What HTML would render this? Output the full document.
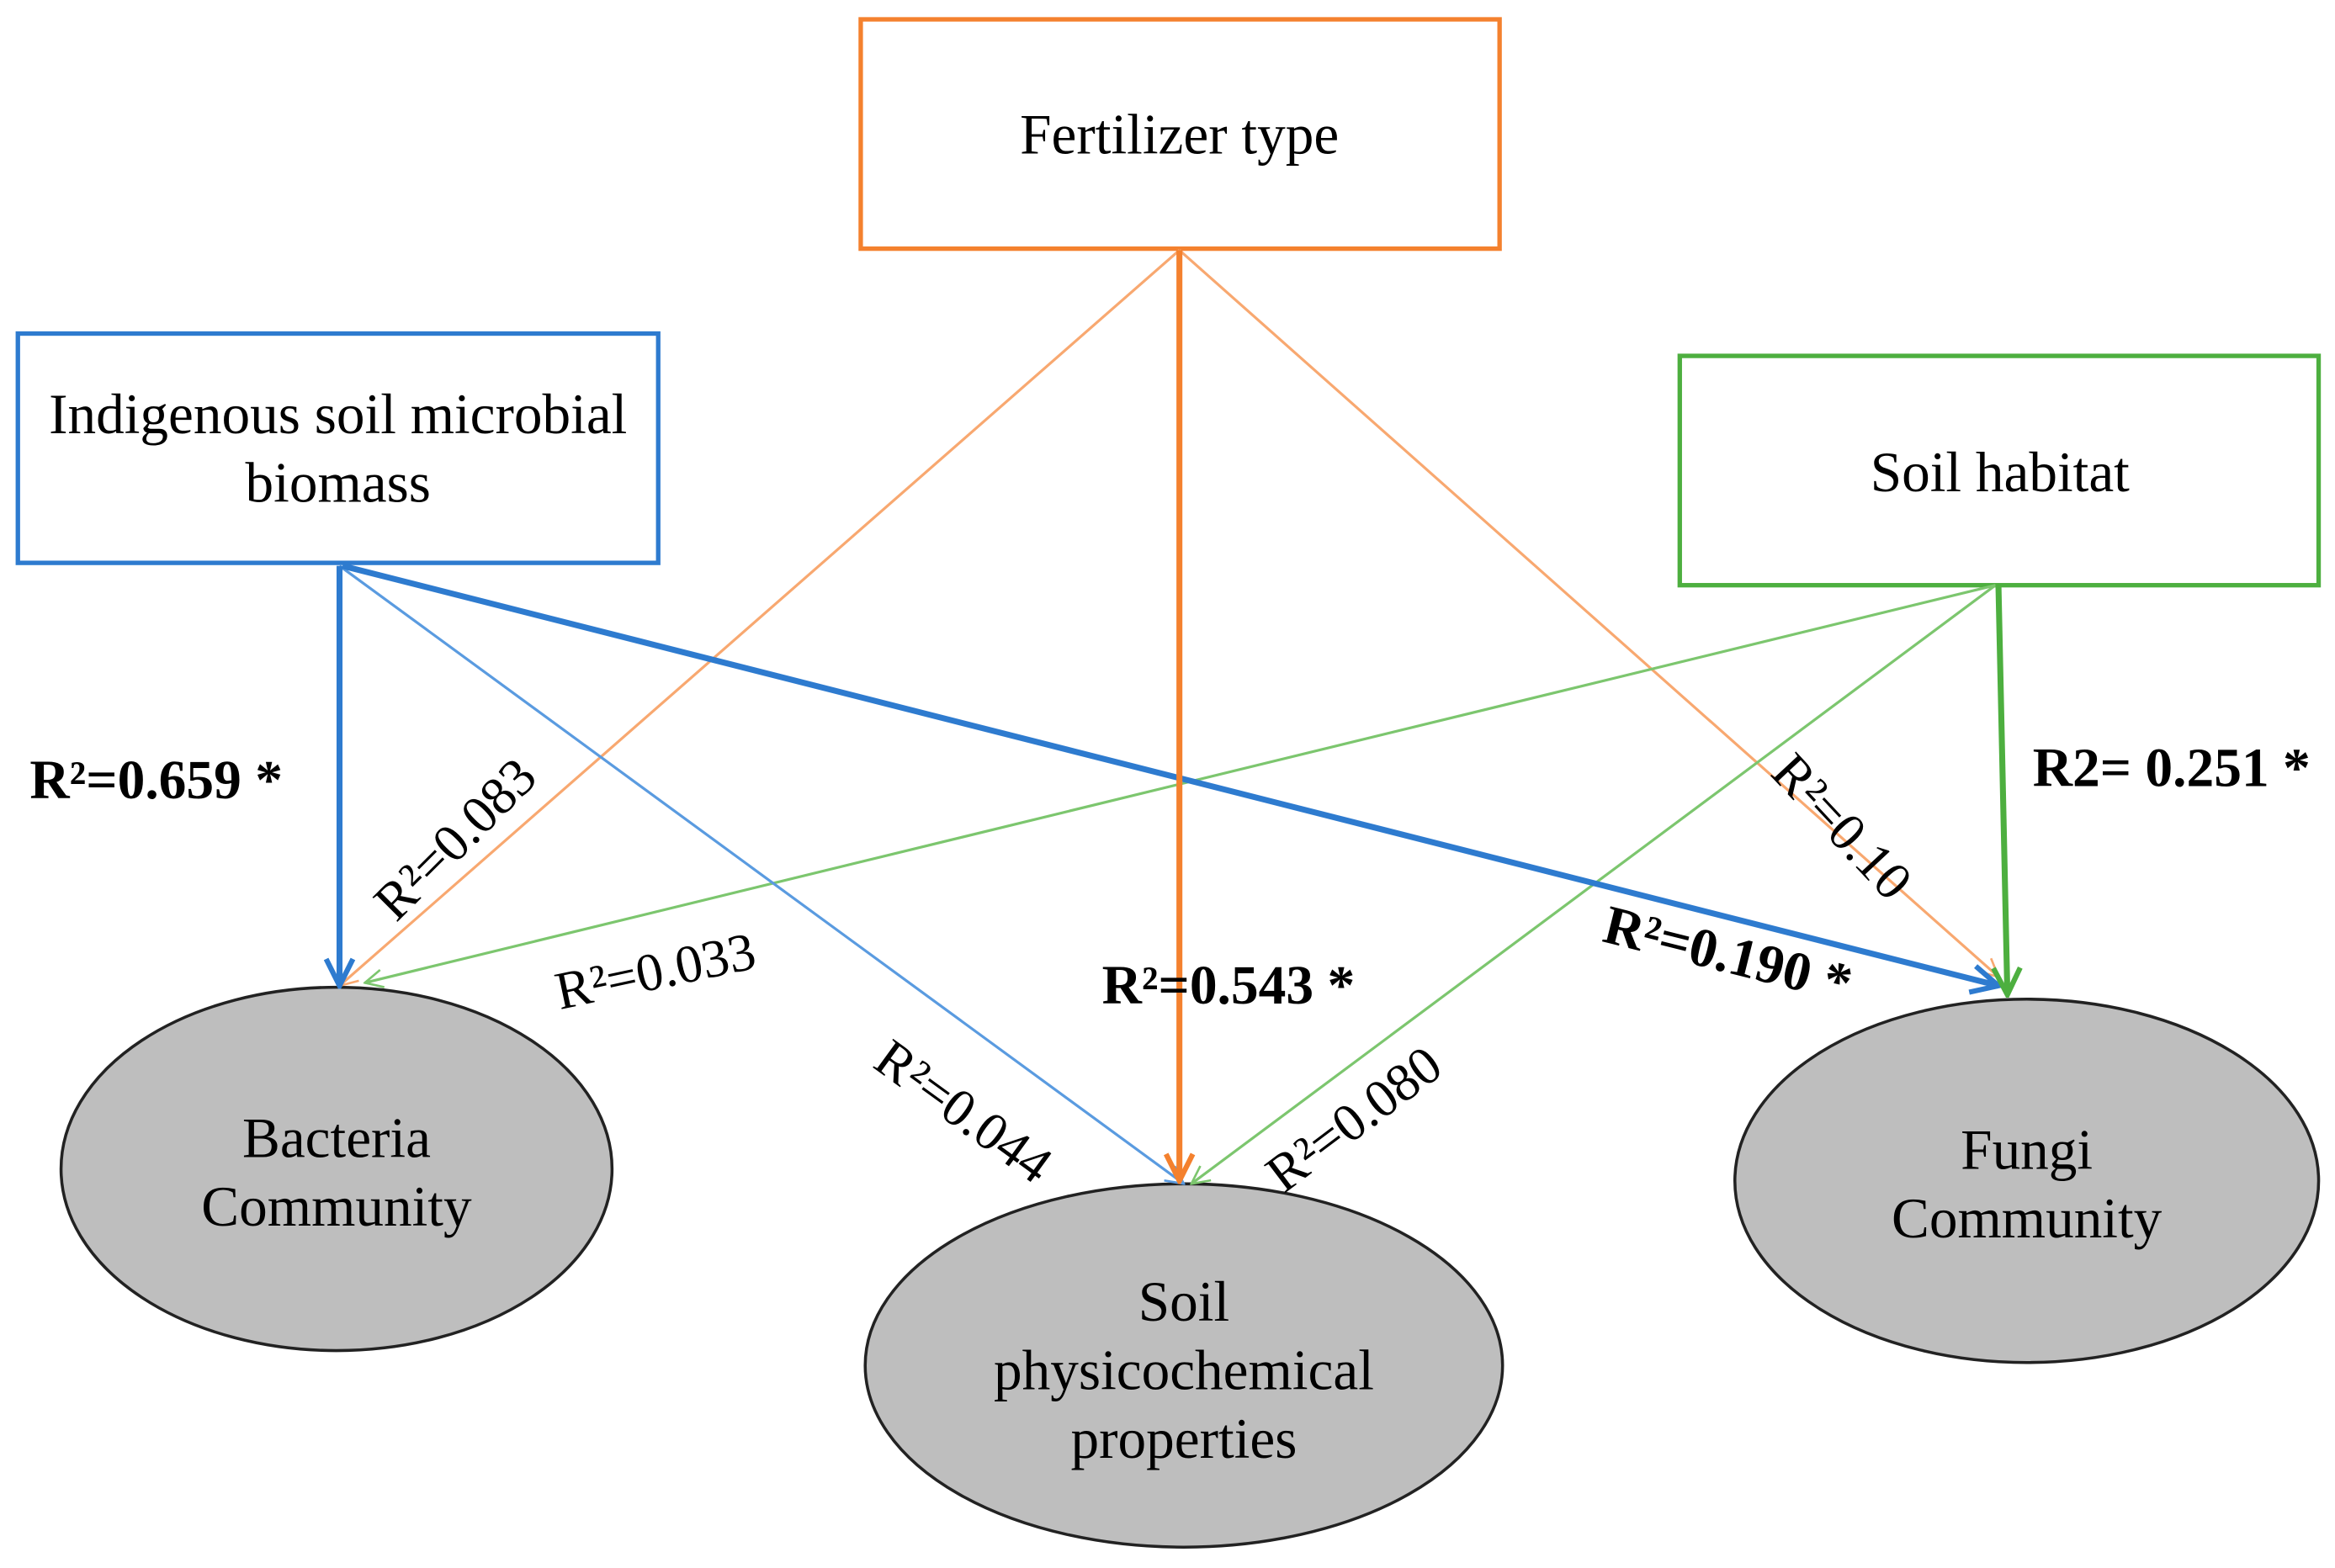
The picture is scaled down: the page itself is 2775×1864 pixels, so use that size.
<!DOCTYPE html>
<html><head><meta charset="utf-8"><style>html,body{margin:0;padding:0;background:#fff}svg{display:block}</style></head>
<body>
<svg width="2775" height="1864" viewBox="0 0 1568 1053" preserveAspectRatio="none" xmlns="http://www.w3.org/2000/svg" font-family="Liberation Serif, serif">
<defs>
<marker id="ab" markerWidth="14" markerHeight="14" refX="13" refY="7" orient="auto" markerUnits="userSpaceOnUse"><path d="M1,1 L13,7 L1,13" fill="none" stroke="#5A9BE0" stroke-width="1.5"/></marker>
<marker id="abB" markerWidth="22" markerHeight="22" refX="20" refY="11" orient="auto" markerUnits="userSpaceOnUse"><path d="M2,2 L20,11 L2,20" fill="none" stroke="#2E7BCF" stroke-width="3.5"/></marker>
<marker id="ao" markerWidth="14" markerHeight="14" refX="13" refY="7" orient="auto" markerUnits="userSpaceOnUse"><path d="M1,1 L13,7 L1,13" fill="none" stroke="#F8A870" stroke-width="1.5"/></marker>
<marker id="aoB" markerWidth="22" markerHeight="22" refX="20" refY="11" orient="auto" markerUnits="userSpaceOnUse"><path d="M2,2 L20,11 L2,20" fill="none" stroke="#F4812E" stroke-width="3.5"/></marker>
<marker id="ag" markerWidth="14" markerHeight="14" refX="13" refY="7" orient="auto" markerUnits="userSpaceOnUse"><path d="M1,1 L13,7 L1,13" fill="none" stroke="#7CC66E" stroke-width="1.5"/></marker>
<marker id="agB" markerWidth="22" markerHeight="22" refX="20" refY="11" orient="auto" markerUnits="userSpaceOnUse"><path d="M2,2 L20,11 L2,20" fill="none" stroke="#4DAF3F" stroke-width="3.5"/></marker>
</defs>

<rect x="578" y="13" width="429" height="154" fill="#fff" stroke="#F4812E" stroke-width="3"/>
<text x="792" y="103" font-size="38" text-anchor="middle">Fertilizer type</text>
<rect x="12" y="224" width="430" height="154" fill="#fff" stroke="#2E7BCF" stroke-width="3"/>
<text x="227" y="291" font-size="38" text-anchor="middle">Indigenous soil microbial</text>
<text x="227" y="337" font-size="38" text-anchor="middle">biomass</text>
<rect x="1128" y="239" width="429" height="154" fill="#fff" stroke="#4DAF3F" stroke-width="3"/>
<text x="1343" y="330" font-size="38" text-anchor="middle">Soil habitat</text>

<ellipse cx="226" cy="785" rx="185" ry="122" fill="#BEBEBE" stroke="#222" stroke-width="2"/>
<text x="226" y="777" font-size="38" text-anchor="middle">Bacteria</text>
<text x="226" y="823" font-size="38" text-anchor="middle">Community</text>
<ellipse cx="795" cy="917" rx="214" ry="122" fill="#BEBEBE" stroke="#222" stroke-width="2"/>
<text x="795" y="887" font-size="38" text-anchor="middle">Soil</text>
<text x="795" y="933" font-size="38" text-anchor="middle">physicochemical</text>
<text x="795" y="979" font-size="38" text-anchor="middle">properties</text>
<ellipse cx="1361" cy="793" rx="196" ry="122" fill="#BEBEBE" stroke="#222" stroke-width="2"/>
<text x="1361" y="785" font-size="38" text-anchor="middle">Fungi</text>
<text x="1361" y="831" font-size="38" text-anchor="middle">Community</text>

<line x1="792" y1="168" x2="228" y2="662" stroke="#F8A870" stroke-width="1.8" marker-end="url(#ao)"/>
<line x1="792" y1="168" x2="1342" y2="656" stroke="#F8A870" stroke-width="1.8" marker-end="url(#ao)"/>
<line x1="1340" y1="393" x2="245" y2="660" stroke="#7CC66E" stroke-width="1.8" marker-end="url(#ag)"/>
<line x1="1340" y1="393" x2="800" y2="795" stroke="#7CC66E" stroke-width="1.8" marker-end="url(#ag)"/>
<line x1="228" y1="380" x2="795" y2="795" stroke="#5A9BE0" stroke-width="1.8" marker-end="url(#ab)"/>
<line x1="228" y1="380" x2="228" y2="662" stroke="#2E7BCF" stroke-width="4" marker-end="url(#abB)"/>
<line x1="230" y1="380" x2="1342" y2="662" stroke="#2E7BCF" stroke-width="4" marker-end="url(#abB)"/>
<line x1="792" y1="168" x2="792" y2="793" stroke="#F4812E" stroke-width="4" marker-end="url(#aoB)"/>
<line x1="1342" y1="393" x2="1348" y2="668" stroke="#4DAF3F" stroke-width="4" marker-end="url(#agB)"/>

<text x="20" y="536" font-size="37" font-weight="bold">R²=0.659 *</text>
<text x="740" y="674" font-size="37" font-weight="bold">R²=0.543 *</text>
<text x="1365" y="528" font-size="37" font-weight="bold">R2= 0.251 *</text>
<text transform="translate(1075,632) rotate(14)" font-size="37" font-weight="bold">R²=0.190 *</text>
<text transform="translate(266,620) rotate(-45)" font-size="36">R²=0.083</text>
<text transform="translate(376,678) rotate(-12)" font-size="36">R²=0.033</text>
<text transform="translate(585,716) rotate(36)" font-size="36">R²=0.044</text>
<text transform="translate(862,802) rotate(-37)" font-size="36">R²=0.080</text>
<text transform="translate(1188,520) rotate(47)" font-size="36">R²=0.10</text>
</svg>
</body></html>
